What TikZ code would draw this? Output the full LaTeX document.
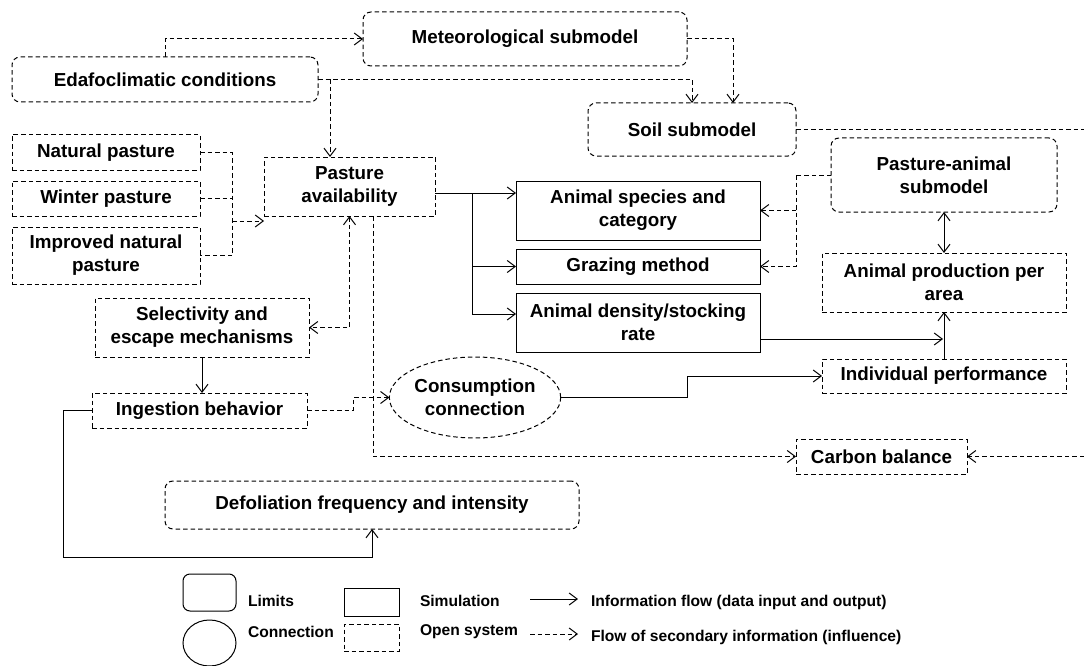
\documentclass[tikz,border=0pt]{standalone}
\usepackage{fontspec}
\setmainfont{Liberation Sans}
\usetikzlibrary{arrows.meta,shapes.geometric,calc}

\begin{document}
\begin{tikzpicture}[x=1pt,y=-1pt,
  every node/.style={inner sep=0pt, outer sep=0pt, align=center,
    font=\fontsize{18.8}{22.8}\selectfont\bfseries},
  legendtext/.style={anchor=west, align=left, font=\fontsize{15.6}{18}\selectfont\bfseries},
  solidline/.style={line width=1pt},
  dashline/.style={line width=1pt, dash pattern=on 4.5pt off 3pt},
  barb/.tip={Straight Barb[length=8pt,width=12pt,line width=1pt]},
  solidarrow/.style={solidline, -barb},
  dasharrow/.style={dashline, -barb},
  bisolid/.style={solidline, barb-barb},
  bidash/.style={dashline, barb-barb},
  limitbox/.style={draw, dashline, rounded corners=8pt},
  openbox/.style={draw, dashline},
  simbox/.style={draw, solidline},
  connbox/.style={draw, dashline, ellipse}
]
\useasboundingbox (0,0) rectangle (1084,666);

% ---- boundaries (submodels and external conditions)
\node[limitbox, minimum width=306, minimum height=45] (edaf) at (165,79.5) {Edafoclimatic conditions};
\node[limitbox, minimum width=324, minimum height=54] (meteo) at (525,39) {Meteorological submodel};
\node[limitbox, minimum width=208, minimum height=53] (soil) at (692,129.5) {Soil submodel};
\node[limitbox, minimum width=226, minimum height=74] (pam) at (944,175) {Pasture-animal\\submodel};
\node[limitbox, minimum width=414, minimum height=48] (defol) at (372,505) {Defoliation frequency and intensity};

% ---- open system elements
\node[openbox, minimum width=188, minimum height=35] (natural) at (106,152.5) {Natural pasture};
\node[openbox, minimum width=188, minimum height=35] (winter) at (106,198.5) {Winter pasture};
\node[openbox, minimum width=188, minimum height=57] (improved) at (106,255.5) {Improved natural\\pasture};
\node[openbox, minimum width=171, minimum height=59] (avail) at (349.5,186.5) {Pasture\\availability};
\node[openbox, minimum width=214, minimum height=59] (select) at (202,327.5) {Selectivity and\\escape mechanisms};
\node[openbox, minimum width=215, minimum height=35] (ingest) at (199.5,410.5) {Ingestion behavior};
\node[openbox, minimum width=244, minimum height=59] (prod) at (944,282.5) {Animal production per\\area};
\node[openbox, minimum width=244, minimum height=34] (indiv) at (944,376) {Individual performance};
\node[openbox, minimum width=171, minimum height=35] (carbon) at (881.5,456.5) {Carbon balance};

% ---- simulated elements
\node[simbox, minimum width=244, minimum height=59] (species) at (638,210.5) {Animal species and\\category};
\node[simbox, minimum width=244, minimum height=35] (grazing) at (638,266.5) {Grazing method};
\node[simbox, minimum width=244, minimum height=59] (density) at (638,322.5) {Animal density/stocking\\rate};

% ---- connection
\node[connbox, minimum width=156, minimum height=81] (consume) at (475,397.5) {Consumption\\connection};

% ---- junctions and free ends
\coordinate (jE) at (330,79.5);
\coordinate (jP) at (232,152.5);
\coordinate (jQ) at (232,221);
\coordinate (jA) at (472,193);
\coordinate (jB) at (943,339);
\coordinate (jM) at (796,175);
\coordinate (jI) at (353,410.5);
\coordinate (jC) at (687,397.5);
\coordinate (jD1) at (63,410.5);
\coordinate (jD2) at (63,557);
\coordinate (soilOut) at (1084,129.5);
\coordinate (carbIn) at (1084,456.5);

% ---- secondary information flows
\draw[dasharrow] (edaf.north) |- (meteo.west);
\draw[dasharrow] (edaf.east) -| (soil.north);
\draw[dasharrow] (jE) -- (jE |- avail.north);
\draw[dasharrow] (meteo.east) -| ([xshift=41pt]soil.north);
\draw[dashline] (soil.east) -- (soilOut);
\draw[dashline] (natural.east) -- (natural.east -| jP) -- (improved.east -| jP) -- (improved.east);
\draw[dashline] (winter.east) -- (winter.east -| jP);
\draw[dasharrow] (jQ) -- (jQ -| avail.west);
\draw[bidash] (avail.south) |- (select.east);
\draw[dasharrow] ([xshift=23.5pt]avail.south) |- (carbon.west);
\draw[dasharrow] (carbIn) -- (carbon.east);
\draw[dasharrow] (ingest.east) -- (jI) |- (consume.west);
\draw[dashline] (pam.west) -- (jM);
\draw[dasharrow] (jM) |- (grazing.east);
\draw[dasharrow] (jM |- species.east) -- (species.east);

% ---- information flows
\draw[solidline] ([yshift=-6.5pt]avail.east) -- (jA);
\draw[solidarrow] (jA) -- (jA -| species.west);
\draw[solidarrow] (jA) |- (grazing.west);
\draw[solidarrow] (jA) |- ([yshift=8.5pt]density.west);
\draw[solidarrow] ([yshift=-16.5pt]density.east) -- (jB);
\draw[solidarrow] (indiv.north) -- (prod.south);
\draw[bisolid] (pam.south) -- (prod.north);
\draw[solidarrow] (consume.east) -- (jC) |- (indiv.west);
\draw[solidarrow] (select.south) -- (select.south |- ingest.north);
\draw[solidarrow] (ingest.west) -- (jD1) -- (jD2) -| (defol.south);

% ---- legend
\node[draw, solidline, rounded corners=7pt, minimum width=53, minimum height=37] (lgLim) at (209.5,592.5) {};
\node[legendtext] (lgLimT) at (248,601) {Limits};
\node[draw, solidline, ellipse, minimum width=53, minimum height=46] (lgCon) at (209.5,643) {};
\node[legendtext] (lgConT) at (248,632) {Connection};
\node[simbox, minimum width=55, minimum height=28] (lgSim) at (371.5,602) {};
\node[legendtext] (lgSimT) at (420,601) {Simulation};
\node[openbox, minimum width=55, minimum height=27] (lgOpen) at (371.5,637.5) {};
\node[legendtext] (lgOpenT) at (420,632) {Open system};
\coordinate (lgA1) at (530,599);
\coordinate (lgA2) at (578,599);
\coordinate (lgB1) at (530,634);
\coordinate (lgB2) at (578,634);
\draw[solidarrow] (lgA1) -- (lgA2);
\draw[dasharrow] (lgB1) -- (lgB2);
\node[legendtext] (lgFlowT) at (591,602) {Information flow (data input and output)};
\node[legendtext] (lgSecT) at (591,637) {Flow of secondary information (influence)};
\end{tikzpicture}
\end{document}
